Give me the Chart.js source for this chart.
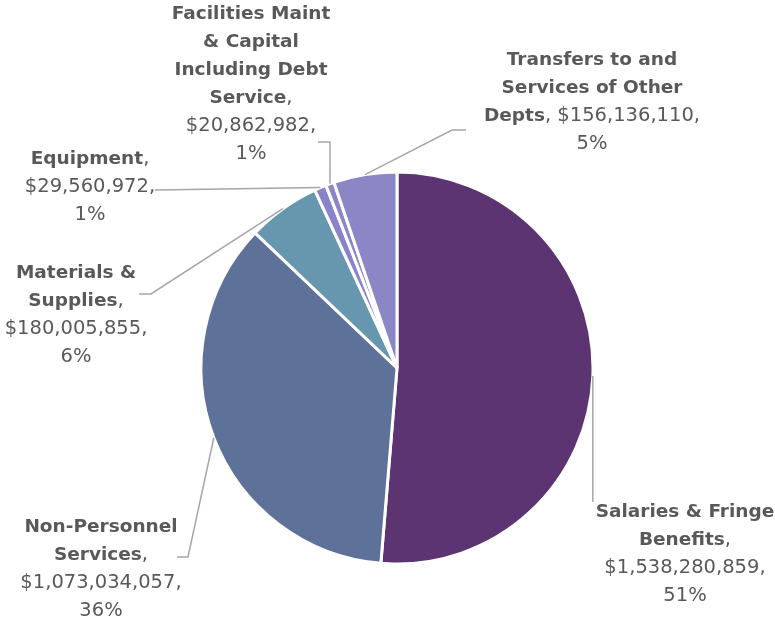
<!DOCTYPE html>
<html lang="en">
<head>
<meta charset="UTF-8">
<title>Budget by Category</title>
<style>
  body { margin: 0; background: #fff; }
  .wrap { width: 775px; height: 619px; }
</style>
</head>
<body>
<div class="wrap"><canvas id="pieChart"></canvas></div>
<script src="https://cdn.jsdelivr.net/npm/chart.js"></script>
<script>
const categories = [
  'Salaries & Fringe Benefits',
  'Non-Personnel Services',
  'Materials & Supplies',
  'Equipment',
  'Facilities Maint & Capital Including Debt Service',
  'Transfers to and Services of Other Depts'
];
const amounts = [1538280859, 1073034057, 180005855, 29560972, 20862982, 156136110];
const sliceColors = ['#5B3471', '#5E7198', '#6697AE', '#8A83CB', '#8C86C9', '#8B87C7'];

// label placement: text centre x, first line y, wrap width, leader bends (null = anchor x)
const labelLayout = [
  { x: 685, y: 512, w: 195, bends: [[null, 502]] },
  { x: 101, y: 527, w: 175, bends: [[188, 557], [177, 557]] },
  { x: 76, y: 273, w: 150, bends: [[151, 294], [139, 294]] },
  { x: 90, y: 159, w: 140, bends: [[155, 190]] },
  { x: 251, y: 14, w: 164, bends: [[330, 142], [318, 142]] },
  { x: 592, y: 60, w: 230, bends: [[452, 130], [466, 130]] }
];

const total = amounts.reduce((a, b) => a + b, 0);
const boldFont = 'bold 18.5px "DejaVu Sans"';
const normFont = '19.5px "DejaVu Sans"';
const lineH = 28;

function labelTokens(i) {
  const words = categories[i].split(' ');
  const toks = words.map(w => [{ t: w, b: true }]);
  toks[toks.length - 1].push({ t: ',', b: false });
  toks.push([{ t: '$' + amounts[i].toLocaleString('en-US') + ',', b: false }]);
  toks.push([{ t: Math.round(amounts[i] / total * 100) + '%', b: false }]);
  return toks;
}

function partsWidth(ctx, parts) {
  let w = 0;
  parts.forEach(p => {
    ctx.font = p.b ? boldFont : normFont;
    w += ctx.measureText(p.t).width;
  });
  return w;
}

function wrapLabel(ctx, toks, maxW) {
  const lines = [];
  let cur = [];
  toks.forEach(tok => {
    const trial = cur.length ? cur.concat([{ t: ' ', b: tok[0].b }], tok) : tok.slice();
    if (cur.length && partsWidth(ctx, trial) > maxW) {
      lines.push(cur);
      cur = tok.slice();
    } else {
      cur = trial;
    }
  });
  if (cur.length) lines.push(cur);
  return lines;
}

const labelPlugin = {
  id: 'sliceLabels',
  afterDraw(chart) {
    const ctx = chart.ctx;
    const meta = chart.getDatasetMeta(0);
    ctx.save();
    meta.data.forEach((arc, i) => {
      const p = arc.getProps(['x', 'y', 'startAngle', 'endAngle', 'outerRadius'], true);
      const mid = (p.startAngle + p.endAngle) / 2;
      const ax = p.x + Math.cos(mid) * p.outerRadius;
      const ay = p.y + Math.sin(mid) * p.outerRadius;
      const lay = labelLayout[i];

      // leader line
      ctx.strokeStyle = '#A6A6A6';
      ctx.lineWidth = 1.5;
      ctx.beginPath();
      ctx.moveTo(ax, ay);
      lay.bends.forEach(b => ctx.lineTo(b[0] === null ? ax : b[0], b[1]));
      ctx.stroke();

      // text
      const lines = wrapLabel(ctx, labelTokens(i), lay.w);
      ctx.fillStyle = '#595959';
      ctx.textBaseline = 'middle';
      ctx.textAlign = 'left';
      lines.forEach((parts, k) => {
        let x = lay.x - partsWidth(ctx, parts) / 2;
        const y = lay.y + k * lineH;
        parts.forEach(pt => {
          ctx.font = pt.b ? boldFont : normFont;
          ctx.fillText(pt.t, x, y);
          x += ctx.measureText(pt.t).width;
        });
      });
    });
    ctx.restore();
  }
};

new Chart(document.getElementById('pieChart'), {
  type: 'pie',
  data: {
    labels: categories,
    datasets: [{
      data: amounts,
      backgroundColor: sliceColors,
      borderColor: '#FFFFFF',
      borderWidth: 3
    }]
  },
  options: {
    responsive: true,
    maintainAspectRatio: false,
    animation: false,
    layout: {
      padding: { left: 199.5, right: 180.5, top: 170.5, bottom: 53.5 }
    },
    plugins: {
      legend: { display: false },
      tooltip: { enabled: false }
    }
  },
  plugins: [labelPlugin]
});
</script>
</body>
</html>
